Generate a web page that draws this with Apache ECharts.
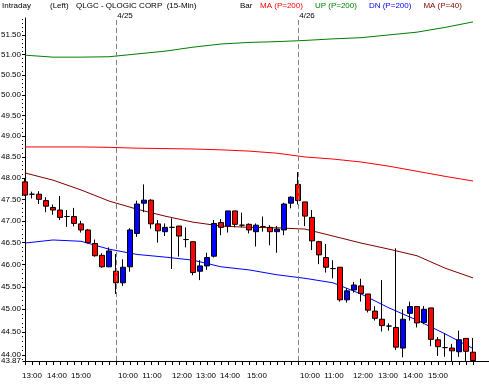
<!DOCTYPE html>
<html><head><meta charset="utf-8">
<script src="https://cdn.jsdelivr.net/npm/echarts@6/dist/echarts.min.js"></script>
<style>html,body{margin:0;padding:0;background:#fff}#c{width:489px;height:387px}</style>
</head><body><div id="c"></div>
<script>
// 15-minute bars: 4/24 (12:45-15:45), 4/25, 4/26
const opens  = [47.91,47.62,47.62,47.47,47.31,47.25,47.10,47.10,46.93,46.79,46.48,46.21,45.95,
                45.85,45.59,45.95,46.71,47.41,47.48,46.93,46.75,46.85,46.88,46.57,46.52,45.85,45.97,46.19,46.96,46.88,47.23,46.90,46.92,46.75,46.87,46.85,46.75,46.79,47.41,
                47.85,47.44,47.08,46.52,46.16,45.91,45.94,45.21,45.43,45.52,45.34,44.96,44.78,44.63,44.60,44.15,44.91,45.06,44.71,45.03,44.33,44.16,44.15,44.07,44.36,44.06];
const closes = [47.60,47.62,47.50,47.34,47.25,47.08,47.10,46.94,46.79,46.50,46.20,45.95,46.31,
                45.59,45.94,46.79,47.39,47.48,46.93,46.77,46.85,46.85,46.65,46.57,45.82,45.97,46.16,46.94,46.85,47.23,46.92,46.90,46.79,46.90,46.87,46.75,46.81,47.39,47.55,
                47.47,47.11,46.54,46.22,45.94,45.91,45.21,45.41,45.54,45.35,44.98,44.80,44.64,44.63,44.17,44.78,45.06,44.70,45.00,44.34,44.18,44.16,44.09,44.33,44.08,43.88];
const lows   = [47.58,47.52,47.39,47.20,47.14,47.02,46.86,46.87,46.73,46.48,46.18,45.93,45.94,
                45.34,45.52,45.84,46.63,47.20,46.82,46.50,46.65,45.90,46.18,46.39,45.76,45.65,45.88,46.16,46.67,46.73,46.85,46.85,46.71,46.41,46.75,46.44,46.27,46.67,47.29,
                47.38,46.88,46.33,46.01,45.82,45.69,45.17,45.15,45.37,45.17,44.93,44.75,44.51,44.53,44.11,43.95,44.75,44.60,44.67,44.19,43.98,43.96,43.87,43.96,43.87,43.87];
const highs  = [47.98,47.68,47.69,47.55,47.38,47.58,47.25,47.30,47.00,46.81,46.57,46.26,46.39,
                46.24,46.12,46.83,47.47,47.85,47.50,47.02,46.94,47.06,46.88,46.85,46.52,46.10,46.27,47.02,47.04,47.23,47.23,47.19,46.94,46.94,47.10,46.90,46.88,47.42,47.57,
                48.14,47.44,47.25,46.54,46.47,46.10,45.94,45.47,45.61,45.68,45.34,45.07,45.65,44.69,46.37,45.00,45.17,45.06,45.07,45.03,44.39,44.48,44.24,44.53,44.37,44.37];

// study lines, read every 4th bar
const lineAt = [0,4,8,12,16,20,24,28,32,36,40,44,48,52,56,60,64];
const ma200 = [48.74,48.74,48.74,48.73,48.71,48.70,48.69,48.67,48.64,48.59,48.50,48.45,48.38,48.28,48.16,48.04,47.93];
const up200 = [50.99,50.94,50.94,50.95,51.02,51.09,51.19,51.27,51.31,51.33,51.36,51.40,51.43,51.50,51.57,51.69,51.83];
const dn200 = [46.49,46.56,46.53,46.35,46.23,46.17,46.10,45.95,45.88,45.77,45.69,45.59,45.34,45.03,44.76,44.46,44.14];
const ma40  = [48.12,47.95,47.72,47.46,47.27,47.11,46.97,46.88,46.85,46.84,46.81,46.65,46.49,46.35,46.20,45.92,45.70];

const yTicks = [44.00,44.50,45.00,45.50,46.00,46.50,47.00,47.50,48.00,48.50,49.00,49.50,50.00,50.50,51.00,51.50];
const yMinorTicks = [];
for (let v = 4390; v <= 5190; v += 10) yMinorTicks.push(v / 100);
const yMin = 43.87, yMax = 51.93;

const xLabelText = ['13:00','14:00','15:00','10:00','11:00','12:00','13:00','14:00','15:00','10:00','11:00','12:00','13:00','14:00','15:00'];
const xLabelAt   = [1.0,4.57,8.0,14.71,18.14,22.43,25.86,29.29,33.14,40.71,44.14,48.29,51.86,55.43,59.0];
const dayStart = [13, 39];
const dayName  = ['4/25', '4/26'];

const barIdx = opens.map((_, i) => i);
const FONT = '"Liberation Sans", Arial, sans-serif';
const FS = 8;

const chart = echarts.init(document.getElementById('c'), null, {renderer: 'canvas'});
const txt = {fontSize: FS, fontWeight: 'normal', color: '#000', fontFamily: FONT};
const lineSeries = (name, vals, color) => ({
  name, type: 'line', data: lineAt.map((x, k) => [x, vals[k]]),
  showSymbol: false, symbol: 'none', silent: true,
  lineStyle: {color, width: 1}, itemStyle: {color}, z: 1
});

chart.setOption({
  animation: false,
  backgroundColor: '#fff',
  title: [
    {text: 'Intraday', left: 2, top: 2, padding: 0, textStyle: txt},
    {text: '(Left)', left: 50, top: 2, padding: 0, textStyle: txt},
    {text: 'QLGC - QLOGIC CORP  (15-Min)', left: 76, top: 2, padding: 0, textStyle: txt},
    {text: 'Bar', left: 240, top: 2, padding: 0, textStyle: txt}
  ],
  legend: {
    left: 255, top: 2, padding: 0, itemWidth: 0, itemHeight: 0, itemGap: 7,
    icon: 'rect', selectedMode: false, width: 234,
    textStyle: {fontSize: FS, fontFamily: FONT},
    data: [
      {name: 'MA (P=200)', textStyle: {color: '#ff0000'}},
      {name: 'UP (P=200)', textStyle: {color: '#008000'}},
      {name: 'DN (P=200)', textStyle: {color: '#0000ff'}},
      {name: 'MA (P=40)', textStyle: {color: '#800000'}}
    ]
  },
  grid: {left: 23, right: 0, top: 18, bottom: 26, outerBoundsMode: 'none', containLabel: false},
  xAxis: {
    type: 'value', min: -2 / 7, max: 464 / 7,
    splitLine: {show: false},
    axisLine: {lineStyle: {color: '#000', width: 1}},
    axisTick: {customValues: barIdx, length: 4, lineStyle: {color: '#000'}},
    axisLabel: {
      customValues: xLabelAt, margin: 11, color: '#000', fontSize: FS, fontFamily: FONT,
      formatter: v => xLabelText[xLabelAt.indexOf(v)]
    }
  },
  yAxis: [{
    type: 'log', logBase: 10, min: yMin, max: yMax,
    splitLine: {show: false},
    axisLine: {show: true, lineStyle: {color: '#000'}},
    axisTick: {customValues: yTicks, length: 2, lineStyle: {color: '#000'}},
    axisLabel: {
      customValues: [...yTicks, yMin], margin: 2, color: '#000', fontSize: FS, fontFamily: FONT,
      formatter: v => Math.abs(v - yMin) < 1e-6 ? '{m|' + v.toFixed(2) + '}' : v.toFixed(2),
      rich: {m: {backgroundColor: '#fff', fontSize: FS, fontFamily: FONT, color: '#000'}}
    }
  }, {
    type: 'log', logBase: 10, min: yMin, max: yMax, position: 'left',
    splitLine: {show: false}, axisLine: {show: false}, axisLabel: {show: false},
    axisTick: {customValues: yMinorTicks, length: 1, lineStyle: {color: '#000'}}
  }],
  series: [
    lineSeries('MA (P=200)', ma200, '#ff0000'),
    lineSeries('UP (P=200)', up200, '#008000'),
    lineSeries('DN (P=200)', dn200, '#0000ff'),
    lineSeries('MA (P=40)', ma40, '#800000'),
    {
      name: 'Bar', type: 'candlestick', z: 3,
      encode: {x: 0, y: [1, 2, 3, 4]},
      data: barIdx.map(i => [i, opens[i], closes[i], lows[i], highs[i]]),
      barWidth: 5,
      itemStyle: {color: '#0000ff', color0: '#ff0000', borderColor: '#000', borderColor0: '#000', borderColorDoji: '#000', borderWidth: 1},
      markLine: {
        silent: true, symbol: ['none', 'none'], animation: false,
        lineStyle: {color: '#808080', type: [5, 3], width: 1},
        label: {position: 'end', formatter: p => p.name, color: '#000', fontSize: FS, fontFamily: FONT, distance: -2, offset: [9, 0]},
        data: dayStart.map((d, k) => ({xAxis: d, name: dayName[k]}))
      }
    }
  ]
});
</script></body></html>
